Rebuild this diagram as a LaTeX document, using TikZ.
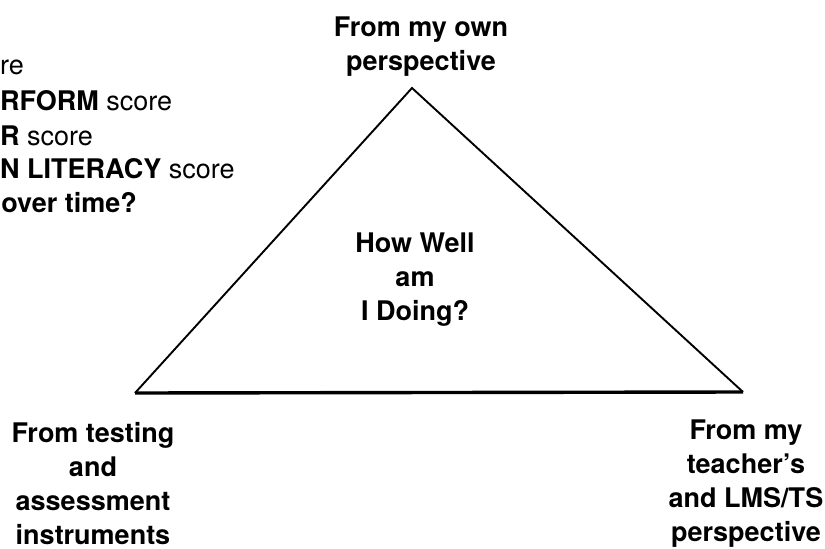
\documentclass[tikz,border=0pt]{standalone}
\usepackage{fontspec}
\setmainfont{TeX Gyre Heros}
\tikzset{lbl/.style={align=center,inner sep=0pt,anchor=north,font=\bfseries},
  frag/.style={inner sep=0pt,anchor=base west}}
\begin{document}
\begin{tikzpicture}[x=1pt,y=-1pt]
\fontsize{27}{34}\selectfont
\useasboundingbox (0,0) rectangle (825,549);
\clip (0,0) rectangle (825,549);
\coordinate (apex) at (412,88);
\coordinate (bl) at (135,393);
\coordinate (br) at (743,392);
\draw[line width=1.9pt] (bl) -- (apex) -- (br);
\draw[line width=3.4pt] (bl) -- (br);

\node[lbl] (own) at (421,17) {From my own\\perspective};
\node[lbl] (how) at (415,233) {How Well\\am\\I Doing?};
\node[lbl] (test) at (93,422) {From testing\\and\\assessment\\instruments};
\node[lbl] (teach) at (746,420) {From my\\teacher's\\and LMS/TS\\perspective};

\node[frag] (s1) at (0,74) {re};
\node[frag] (s2) at (0,110) {\textbf{RFORM} score};
\node[frag] (s3) at (0,145) {\textbf{R} score};
\node[frag] (s4) at (0,178) {\textbf{N LITERACY} score};
\node[frag,anchor=base east] (s5) at (137,212) {\textbf{over time?}};
\end{tikzpicture}
\end{document}
